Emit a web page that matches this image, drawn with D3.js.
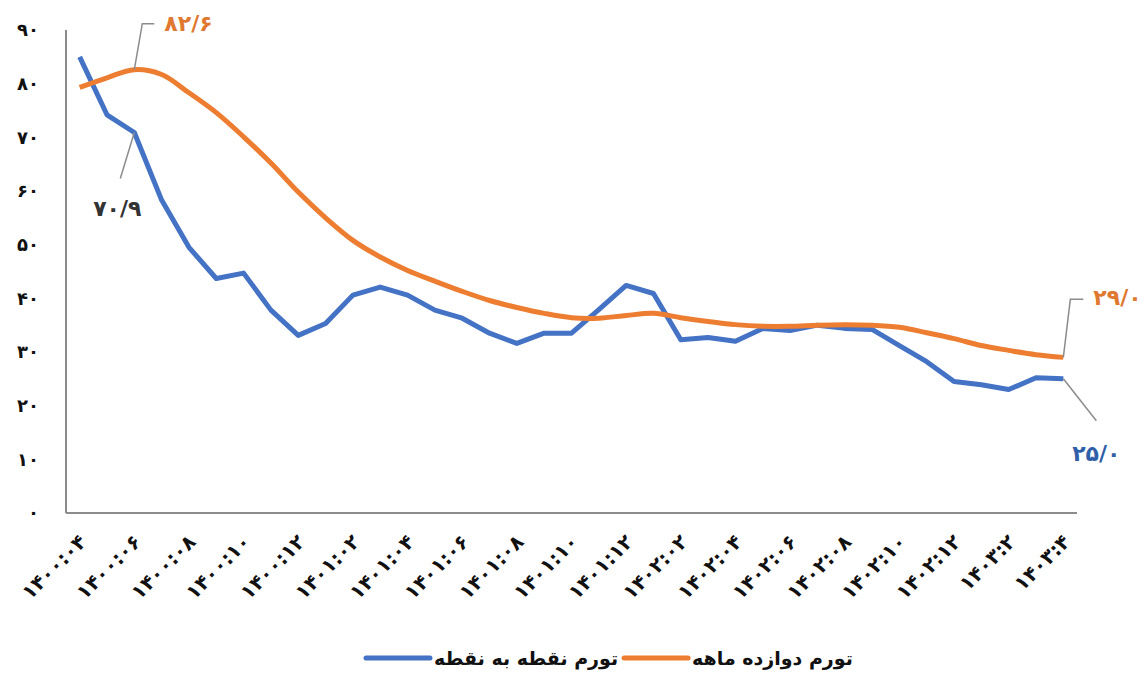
<!DOCTYPE html>
<html>
<head>
<meta charset="utf-8">
<script src="https://cdn.jsdelivr.net/npm/d3@7"></script>
<style>
  body { margin: 0; background: #fff; }
  svg { display: block; font-family: 'DejaVu Sans', sans-serif; }
</style>
</head>
<body>
<svg id="chart" width="1141" height="676"></svg>
<script>
// months 1400:04 .. 1403:04
const months = [
  '۱۴۰۰:۰۴', '۱۴۰۰:۰۵', '۱۴۰۰:۰۶', '۱۴۰۰:۰۷', '۱۴۰۰:۰۸', '۱۴۰۰:۰۹', '۱۴۰۰:۱۰', '۱۴۰۰:۱۱', '۱۴۰۰:۱۲',
  '۱۴۰۱:۰۱', '۱۴۰۱:۰۲', '۱۴۰۱:۰۳', '۱۴۰۱:۰۴', '۱۴۰۱:۰۵', '۱۴۰۱:۰۶', '۱۴۰۱:۰۷', '۱۴۰۱:۰۸', '۱۴۰۱:۰۹',
  '۱۴۰۱:۱۰', '۱۴۰۱:۱۱', '۱۴۰۱:۱۲', '۱۴۰۲:۰۱', '۱۴۰۲:۰۲', '۱۴۰۲:۰۳', '۱۴۰۲:۰۴', '۱۴۰۲:۰۵', '۱۴۰۲:۰۶',
  '۱۴۰۲:۰۷', '۱۴۰۲:۰۸', '۱۴۰۲:۰۹', '۱۴۰۲:۱۰', '۱۴۰۲:۱۱', '۱۴۰۲:۱۲', '۱۴۰۳:۱', '۱۴۰۳:۲', '۱۴۰۳:۳', '۱۴۰۳:۴'
];

// تورم نقطه به نقطه
const pointToPoint = [
  85.0, 74.2, 70.9, 58.3, 49.5, 43.7, 44.7, 37.8, 33.1, 35.3, 40.6, 42.1, 40.6,
  37.8, 36.3, 33.5, 31.6, 33.5, 33.5, 37.9, 42.4, 40.9, 32.3, 32.7, 32.0, 34.4,
  34.0, 35.0, 34.4, 34.2, 31.2, 28.2, 24.5, 23.9, 23.0, 25.2, 25.0
];

// تورم دوازده ماهه
const twelveMonth = [
  79.3, 81.1, 82.6, 81.7, 78.3, 74.6, 70.1, 65.2, 59.8, 55.0, 50.8, 47.7, 45.2,
  43.2, 41.3, 39.6, 38.3, 37.2, 36.4, 36.3, 36.8, 37.2, 36.4, 35.7, 35.1, 34.8,
  34.8, 35.0, 35.1, 35.0, 34.6, 33.6, 32.5, 31.2, 30.3, 29.5, 29.0
];

const yTicks = [0, 10, 20, 30, 40, 50, 60, 70, 80, 90];
const seriesNames = ['تورم نقطه به نقطه', 'تورم دوازده ماهه'];

const toFa = n => String(n).replace(/\d/g, d => '۰۱۲۳۴۵۶۷۸۹'[d]).replace('.', '/');

const blue = '#4472c4';
const orange = '#ed7d31';

const margin = { top: 30, right: 64, bottom: 163, left: 66 };
const W = 1141, H = 676;
const width = W - margin.left - margin.right;
const height = H - margin.top - margin.bottom;

const svg = d3.select('#chart');
const g = svg.append('g').attr('transform', `translate(${margin.left},${margin.top})`);

const x = d3.scalePoint().domain(months).range([0, width]).padding(0.5);
const y = d3.scaleLinear().domain([0, 90]).range([height, 0]);

// axes lines
g.append('line')
  .attr('x1', 0).attr('x2', 0).attr('y1', 0).attr('y2', height)
  .attr('stroke', '#8c8c8c').attr('stroke-width', 2);
g.append('line')
  .attr('x1', 0).attr('x2', width).attr('y1', height).attr('y2', height)
  .attr('stroke', '#8c8c8c').attr('stroke-width', 2);

// y labels
g.selectAll('.ytick')
  .data(yTicks)
  .join('text')
  .attr('class', 'ytick')
  .attr('x', -27)
  .attr('y', d => y(d))
  .attr('dy', '0.35em')
  .attr('text-anchor', 'end')
  .attr('font-size', 18)
  .attr('font-weight', 'bold')
  .attr('fill', '#111')
  .text(d => toFa(d));

// x labels every 2 months
g.selectAll('.xtick')
  .data(months.filter((d, i) => i % 2 === 0))
  .join('text')
  .attr('class', 'xtick')
  .attr('text-anchor', 'end')
  .attr('font-size', 20)
  .attr('font-weight', 'bold')
  .attr('fill', '#111')
  .attr('transform', d => `translate(${x(d) + 8},${height + 30}) rotate(-45)`)
  .text(d => d);

// lines
const line1 = d3.line()
  .x((d, i) => x(months[i]))
  .y(d => y(d));

const line2 = d3.line()
  .x((d, i) => x(months[i]))
  .y(d => y(d))
  .curve(d3.curveCatmullRom.alpha(0.5));

g.append('path')
  .datum(pointToPoint)
  .attr('d', line1)
  .attr('fill', 'none')
  .attr('stroke', blue)
  .attr('stroke-width', 5)
  .attr('stroke-linejoin', 'round');

g.append('path')
  .datum(twelveMonth)
  .attr('d', line2)
  .attr('fill', 'none')
  .attr('stroke', orange)
  .attr('stroke-width', 5)
  .attr('stroke-linejoin', 'round');

// data labels with leader lines
const labels = [
  { i: 2, v: twelveMonth[2], color: '#e0782f', pts: [[0, 0], [8, -46], [20, -46]], tx: 30, ty: -46, anchor: 'start' },
  { i: 2, v: pointToPoint[2], color: '#333', pts: [[0, 0], [-14, 46]], tx: -17, ty: 76, anchor: 'middle' },
  { i: 36, v: twelveMonth[36], color: '#e0782f', pts: [[0, 0], [7, -58], [20, -58]], tx: 30, ty: -60, anchor: 'start' },
  { i: 36, v: pointToPoint[36], color: '#2f5fa8', pts: [[0, 0], [33, 42]], tx: 33, ty: 74, anchor: 'middle' }
];

labels.forEach(l => {
  const px = x(months[l.i]), py = y(l.v);
  g.append('path')
    .attr('d', d3.line()(l.pts.map(p => [px + p[0], py + p[1]])))
    .attr('fill', 'none')
    .attr('stroke', '#8c8c8c')
    .attr('stroke-width', 1.5);
  g.append('text')
    .attr('x', px + l.tx)
    .attr('y', py + l.ty)
    .attr('dy', '0.35em')
    .attr('text-anchor', l.anchor)
    .attr('font-size', 22)
    .attr('font-weight', 'bold')
    .attr('fill', l.color)
    .text(toFa(l.v.toFixed(1)));
});

// legend
const legend = svg.append('g').attr('transform', `translate(0, 658)`);
const colors = [blue, orange];
let lx = 366;
seriesNames.forEach((name, i) => {
  legend.append('line')
    .attr('x1', lx).attr('x2', lx + 64)
    .attr('y1', 0).attr('y2', 0)
    .attr('stroke', colors[i]).attr('stroke-width', 5)
    .attr('stroke-linecap', 'round');
  const t = legend.append('text')
    .attr('x', lx + 68)
    .attr('y', 0)
    .attr('dy', '0.35em')
    .attr('font-size', 19)
    .attr('font-weight', 'bold')
    .attr('fill', '#111')
    .text(name);
  lx += 68 + t.node().getComputedTextLength() + 6;
});
</script>
</body>
</html>
